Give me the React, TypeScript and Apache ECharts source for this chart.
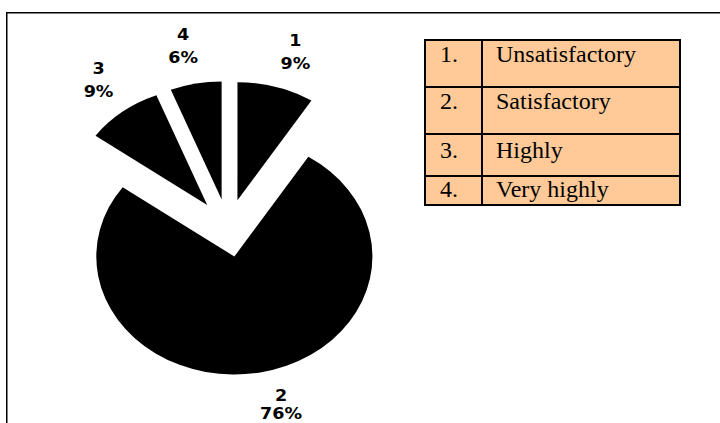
import React, { useEffect, useRef } from 'react';
import * as echarts from 'echarts';

// ---- data ----
const categories = ['1', '2', '3', '4'];
const percentValues = [9, 76, 9, 6];
const tableNumbers = ['1.', '2.', '3.', '4.'];
const tableLabels = ['Unsatisfactory', 'Satisfactory', 'Highly', 'Very highly'];

// ---- layout / style ----
const STRETCH = 1.17; // pie in the reference is horizontally stretched into an ellipse
const labelLen = [35.5, 31.3, 40, 37.5];
const labelShift = [-6.1, -6, -16.7, -9];
const rowEdges = [40, 87, 134, 176, 205];
const tableLeft = 425;
const tableRight = 680;
const tableDivider = 482;
const rowBaselines = [62, 109, 158, 197];

export default function App() {
  const tableRef = useRef<HTMLDivElement>(null);
  const pieRef = useRef<HTMLDivElement>(null);

  useEffect(() => {
    document.body.style.margin = '0';
    const tChart = echarts.init(tableRef.current!, null, { renderer: 'svg' });
    const pChart = echarts.init(pieRef.current!, null, { renderer: 'svg' });

    const textStyleBase = {
      fontFamily: '"Liberation Serif", "Times New Roman", serif',
      fontSize: 24,
      fill: '#000',
      verticalAlign: 'middle' as const,
    };

    const graphics: any[] = [
      {
        type: 'rect',
        shape: { x: 6.75, y: 12.75, width: 800, height: 500 },
        style: { fill: 'none', stroke: '#000', lineWidth: 1.5 },
      },
      {
        type: 'rect',
        shape: {
          x: tableLeft,
          y: rowEdges[0],
          width: tableRight - tableLeft,
          height: rowEdges[rowEdges.length - 1] - rowEdges[0],
        },
        style: { fill: '#FFCA98', stroke: '#000', lineWidth: 2 },
      },
      {
        type: 'line',
        shape: { x1: tableDivider, y1: rowEdges[0], x2: tableDivider, y2: rowEdges[rowEdges.length - 1] },
        style: { stroke: '#000', lineWidth: 2 },
      },
    ];
    for (let i = 1; i < rowEdges.length - 1; i++) {
      graphics.push({
        type: 'line',
        shape: { x1: tableLeft, y1: rowEdges[i], x2: tableRight, y2: rowEdges[i] },
        style: { stroke: '#000', lineWidth: 2 },
      });
    }
    tableLabels.forEach((lab, i) => {
      graphics.push({
        type: 'text',
        x: 440,
        y: rowBaselines[i] - 8,
        style: { ...textStyleBase, text: tableNumbers[i], align: 'left' },
      });
      graphics.push({
        type: 'text',
        x: 496,
        y: rowBaselines[i] - 8,
        style: { ...textStyleBase, text: lab, align: 'left' },
      });
    });

    tChart.setOption({
      animation: false,
      graphic: { elements: graphics },
    });

    const richBase = {
      fontFamily: '"DejaVu Sans", Verdana, sans-serif',
      fontWeight: 'bold' as const,
      fontSize: 15,
      lineHeight: 23,
      color: '#000',
      align: 'center' as const,
    };

    pChart.setOption({
      animation: false,
      series: [
        {
          type: 'pie',
          center: [228 / STRETCH, 228],
          radius: 118,
          startAngle: 90,
          clockwise: true,
          selectedMode: 'multiple',
          selectedOffset: 29,
          avoidLabelOverlap: false,
          emphasis: { disabled: true },
          select: { itemStyle: { color: '#000', borderWidth: 0 } },
          itemStyle: { color: '#000', borderWidth: 0 },
          label: {
            show: true,
            position: 'outside',
            formatter: '{n|{b}}\n{p|{c}%}',
            rich: {
              n: richBase,
              p: richBase,
              m: { ...richBase, lineHeight: 21 },
              q: { ...richBase, lineHeight: 14 },
            },
          },
          labelLine: { show: false, length2: 0 },
          data: categories.map((c, i) => ({
            name: c,
            value: percentValues[i],
            selected: true,
            label:
              i === 1
                ? { distanceToLabelLine: labelShift[i], formatter: '{m|{b}}\n{q|{c}%}' }
                : { distanceToLabelLine: labelShift[i] },
            labelLine: { length: labelLen[i] },
          })),
        },
      ],
    });

    return () => {
      tChart.dispose();
      pChart.dispose();
    };
  }, []);

  return (
    <div style={{ position: 'relative', width: 720, height: 423, overflow: 'hidden', background: '#fff' }}>
      <div ref={tableRef} style={{ position: 'absolute', left: 0, top: 0, width: 720, height: 423 }} />
      <div
        ref={pieRef}
        style={{
          position: 'absolute',
          left: 0,
          top: 0,
          width: 380,
          height: 423,
          transform: `scaleX(${STRETCH})`,
          transformOrigin: '0 0',
        }}
      />
    </div>
  );
}
